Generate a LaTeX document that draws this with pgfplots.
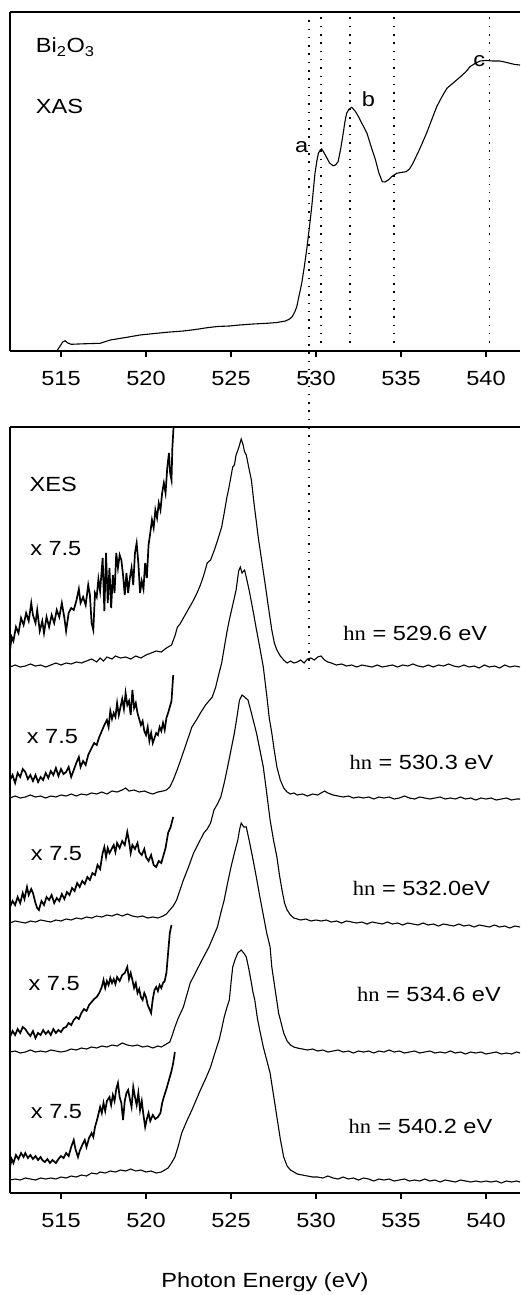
\documentclass[border=0pt]{standalone}
\usepackage{pgfplots}
\pgfplotsset{compat=1.18}
\usepackage{fontspec}
\setmainfont{Liberation Sans}[FakeStretch=1.15]
\newfontfamily\serif{Liberation Serif}[FakeStretch=1.1]
\newcommand{\myfs}{\fontsize{20.5}{24}\selectfont}
\tikzset{vdot/.style={line width=1.5pt, dash pattern=on 1.5pt off 6.8pt}}
\pgfplotsset{
  myaxis/.style={
    scale only axis, width=510pt, xmin=512, xmax=542, ymin=0,
    axis x line*=bottom, axis y line*=left, ytick=\empty,
    xtick={515,520,...,540}, tick align=outside, major tick length=6pt,
    tick label style={font=\myfs}, x tick label style={yshift=-11pt},
    /pgf/number format/assume math mode=true,
    axis line style={line width=1.3pt}, every tick/.style={line width=1.2pt, black},
    clip=false,
  },
  spec/.style={black, line width=1.1pt, no marks},
  mag/.style={black, line width=1.7pt, no marks},
}
\begin{document}
\begin{tikzpicture}
\begin{axis}[myaxis, height=339pt, ymax=339, at={(10pt,-351pt)}, anchor=south west]
\draw[line width=1.5pt] (rel axis cs:0,1) -- (rel axis cs:1,1);
\draw[vdot] (axis cs:530.3,0) -- (axis cs:530.3,339);
\draw[vdot] (axis cs:532.0,0) -- (axis cs:532.0,339);
\draw[vdot] (axis cs:534.6,0) -- (axis cs:534.6,339);
\draw[vdot] (axis cs:540.2,0) -- (axis cs:540.2,339);
\coordinate (L1) at (axis cs:529.6,339);
\addplot[spec] coordinates {(514.75,0)(514.95,5)(515.1,9)(515.24,10.3)(515.4,8)(515.6,6.7)(516.0,7)(516.5,7.3)(517.3,7.7)(517.9,11)(518.8,13.5)(519.65,16)(520.5,17.5)(521.4,19)(522.2,20)(522.9,21.5)(523.6,23.3)(524.2,24.5)(524.9,25)(525.5,26)(526.3,27)(527.1,27.7)(527.7,28.5)(528.2,30)(528.45,32)(528.6,34.3)(528.75,39)(528.87,44.3)(529.0,55)(529.16,67.7)(529.3,83)(529.45,101)(529.6,122)(529.75,144.3)(529.85,162)(529.94,177.7)(530.05,190)(530.14,197.7)(530.25,201)(530.33,202)(530.45,199)(530.6,194.3)(530.8,188)(531.0,185.3)(531.15,186)(531.3,189.3)(531.45,202)(531.6,217.7)(531.7,229)(531.8,237.7)(531.95,242)(532.1,243.7)(532.3,240)(532.5,234.3)(532.75,226)(533.0,217.7)(533.25,204)(533.5,191)(533.7,178)(533.9,169.3)(534.05,169)(534.25,171)(534.5,175)(534.75,177.7)(535.0,178.5)(535.3,179.3)(535.5,182)(535.7,187.7)(536.1,202)(536.5,217.7)(536.8,231)(537.1,244.3)(537.4,254)(537.7,262.7)(538.1,268.5)(538.5,274.3)(538.8,279)(539.06,284.3)(539.35,287.5)(539.65,290)(540.0,290.5)(540.4,290)(540.8,290)(541.1,289)(541.4,287.7)(541.7,286.5)(542.0,286)};
\node[anchor=base west, font=\myfs, inner sep=0pt] at (axis cs:513.51,298) {Bi\textsubscript{2}O\textsubscript{3}};
\node[anchor=base west, font=\myfs, inner sep=0pt] at (axis cs:513.51,237) {XAS};
\node[anchor=base, font=\myfs, inner sep=0pt] at (axis cs:529.16,199) {a};
\node[anchor=base, font=\myfs, inner sep=0pt] at (axis cs:533.08,244) {b};
\node[anchor=base, font=\myfs, inner sep=0pt] at (axis cs:539.6,284) {c};
\end{axis}

\begin{axis}[myaxis, height=766pt, ymax=766, at={(10pt,-1193pt)}, anchor=south west,
  xlabel={Photon Energy (eV)}, xlabel style={font=\myfs, at={(axis description cs:0.5,-0.124)}, anchor=base}]
\draw[line width=1.5pt] (rel axis cs:0,1) -- (rel axis cs:1,1);
\coordinate (L2) at (axis cs:529.6,523);
% hv = 529.6
\addplot[spec] coordinates {(512.0,526)(512.3,528)(512.6,526)(512.9,527)(513.2,529)(513.5,527)(513.8,528)(514.1,526)(514.4,528)(514.7,530)(515.0,528)(515.3,530)(515.6,529)(515.9,531)(516.2,530)(516.5,532)(516.8,534)(517.1,531)(517.3,535)(517.5,532)(517.7,536)(518.0,534)(518.2,537)(518.5,535)(518.8,536)(519.1,534)(519.4,537)(519.7,535)(520.0,538)(520.3,540)(520.6,542)(520.9,541)(521.2,545)(521.5,548)(521.7,557)(521.85,566)(522.0,569)(522.2,575)(522.5,584)(522.8,593)(523.0,600)(523.2,608)(523.4,618)(523.6,630)(523.8,633)(524.0,642)(524.2,652)(524.45,666)(524.6,680)(524.75,695)(524.85,703)(524.95,712)(525.1,726)(525.2,728)(525.3,738)(525.45,745)(525.6,754)(525.7,749)(525.8,741)(525.9,738)(526.05,725)(526.2,713)(526.35,690)(526.5,670)(526.6,656)(526.8,633)(527.0,610)(527.2,586)(527.4,563)(527.55,550)(527.7,543)(527.9,537)(528.1,533)(528.3,530)(528.5,532)(528.7,530)(528.9,531)(529.1,533)(529.3,530)(529.5,534)(529.7,535)(529.9,533)(530.1,536)(530.3,537)(530.5,533)(530.7,531)(530.9,530)(531.2,528)(531.5,529)(531.8,527)(532.1,528)(532.4,526)(532.7,528)(533.0,527)(533.3,526)(533.6,528)(533.9,526)(534.2,527)(534.5,528)(534.8,526)(535.1,528)(535.4,527)(535.7,529)(536.0,527)(536.3,526)(536.6,528)(536.9,526)(537.2,528)(537.5,527)(537.8,529)(538.1,527)(538.4,526)(538.7,528)(539.0,526)(539.3,527)(539.6,525)(539.9,528)(540.2,526)(540.5,527)(540.8,525)(541.1,528)(541.4,526)(541.7,527)(542.0,526)};
\addplot[mag] coordinates {(512.0,543)(512.1,556)(512.2,552)(512.35,566)(512.5,560)(512.65,575)(512.8,568)(512.95,580)(513.1,572)(513.25,590)(513.35,578)(513.5,570)(513.6,583)(513.75,562)(513.9,572)(514.0,560)(514.15,576)(514.3,566)(514.45,578)(514.6,570)(514.75,583)(514.9,576)(515.05,590)(515.2,575)(515.3,562)(515.45,580)(515.6,585)(515.75,583)(515.9,592)(516.05,604)(516.15,590)(516.3,596)(516.45,588)(516.6,608)(516.7,598)(516.8,570)(516.9,563)(517.0,600)(517.1,596)(517.2,614)(517.3,602)(517.45,635)(517.55,582)(517.65,640)(517.75,590)(517.85,625)(517.95,585)(518.05,618)(518.15,600)(518.25,640)(518.35,625)(518.45,638)(518.55,633)(518.65,618)(518.75,598)(518.85,620)(518.95,600)(519.05,615)(519.15,625)(519.25,608)(519.35,640)(519.45,650)(519.55,630)(519.65,600)(519.75,612)(519.85,604)(519.95,630)(520.05,615)(520.15,648)(520.25,660)(520.35,673)(520.45,665)(520.55,683)(520.65,675)(520.75,690)(520.85,683)(520.95,700)(521.05,710)(521.15,700)(521.25,725)(521.35,740)(521.42,720)(521.5,713)(521.55,745)(521.62,766)};
% hv = 530.3
\addplot[spec] coordinates {(512.0,395)(512.3,397)(512.6,395)(512.9,396)(513.2,398)(513.5,396)(513.8,397)(514.1,395)(514.4,397)(514.7,396)(515.0,398)(515.3,397)(515.6,399)(515.9,397)(516.2,399)(516.5,398)(516.8,400)(517.1,399)(517.4,401)(517.7,399)(518.0,402)(518.3,401)(518.6,403)(518.8,405)(519.0,402)(519.3,403)(519.6,401)(519.9,402)(520.2,400)(520.4,399)(520.7,401)(521.0,402)(521.2,403)(521.4,406)(521.6,413)(521.85,424)(522.1,436)(522.4,451)(522.7,466)(523.0,474)(523.2,480)(523.5,488)(523.7,492)(523.9,496)(524.1,506)(524.3,520)(524.45,530)(524.6,545)(524.75,560)(524.9,573)(525.1,588)(525.3,603)(525.45,622)(525.55,626)(525.65,620)(525.8,623)(525.95,612)(526.1,600)(526.3,582)(526.5,563)(526.7,545)(526.9,526)(527.1,498)(527.25,475)(527.4,460)(527.55,442)(527.7,426)(527.9,413)(528.1,405)(528.3,401)(528.5,399)(528.7,400)(528.9,398)(529.2,399)(529.5,397)(529.8,399)(530.1,398)(530.3,400)(530.5,402)(530.7,400)(531.0,398)(531.3,397)(531.6,396)(531.9,397)(532.2,395)(532.5,396)(532.8,395)(533.1,396)(533.4,394)(533.7,396)(534.0,395)(534.3,396)(534.6,394)(534.9,395)(535.2,397)(535.5,395)(535.8,394)(536.1,396)(536.4,395)(536.7,394)(537.0,395)(537.3,396)(537.6,394)(537.9,395)(538.2,394)(538.5,396)(538.8,394)(539.1,395)(539.4,393)(539.7,395)(540.0,394)(540.3,395)(540.6,393)(540.9,394)(541.2,395)(541.5,393)(541.8,394)(542.0,394)};
\addplot[mag] coordinates {(512.0,413)(512.15,418)(512.3,410)(512.45,420)(512.6,416)(512.75,424)(512.9,421)(513.05,414)(513.2,418)(513.35,412)(513.5,418)(513.65,411)(513.8,416)(513.95,413)(514.1,420)(514.25,415)(514.4,422)(514.55,418)(514.7,425)(514.85,417)(515.0,424)(515.15,419)(515.3,421)(515.45,426)(515.6,416)(515.75,423)(515.9,430)(516.05,436)(516.15,426)(516.3,432)(516.45,428)(516.6,438)(516.8,445)(516.95,450)(517.1,448)(517.25,456)(517.4,462)(517.55,468)(517.7,473)(517.8,466)(517.9,482)(518.0,474)(518.1,480)(518.2,476)(518.3,490)(518.4,478)(518.5,486)(518.6,494)(518.7,484)(518.8,500)(518.9,488)(519.0,492)(519.1,478)(519.2,503)(519.3,485)(519.4,490)(519.5,480)(519.6,474)(519.7,468)(519.8,472)(519.9,462)(520.0,458)(520.1,466)(520.2,452)(520.3,460)(520.4,450)(520.5,455)(520.6,460)(520.7,458)(520.8,466)(520.9,462)(521.0,470)(521.1,463)(521.2,475)(521.3,480)(521.4,486)(521.5,492)(521.55,505)(521.6,518)};
% hv = 532.0
\addplot[spec] coordinates {(512.0,270)(512.3,272)(512.6,271)(512.9,270)(513.2,272)(513.5,271)(513.8,273)(514.1,272)(514.4,271)(514.7,273)(515.0,272)(515.3,274)(515.6,273)(515.9,275)(516.2,274)(516.5,276)(516.8,275)(517.1,277)(517.4,276)(517.7,278)(518.0,277)(518.3,279)(518.6,277)(518.9,279)(519.2,277)(519.5,276)(519.8,277)(520.1,275)(520.4,276)(520.7,275)(521.0,277)(521.2,279)(521.4,283)(521.6,287)(521.8,293)(522.0,303)(522.2,313)(522.5,326)(522.8,340)(523.1,350)(523.4,360)(523.6,364)(523.8,370)(524.0,383)(524.2,389)(524.4,396)(524.6,410)(524.8,426)(525.0,443)(525.2,460)(525.35,476)(525.5,493)(525.65,498)(525.8,496)(526.0,493)(526.2,480)(526.35,470)(526.5,460)(526.7,443)(526.9,426)(527.1,400)(527.3,373)(527.5,353)(527.7,336)(527.85,318)(528.0,303)(528.15,290)(528.3,283)(528.5,278)(528.7,275)(528.9,274)(529.1,273)(529.4,274)(529.7,272)(530.0,273)(530.3,272)(530.6,273)(530.9,271)(531.2,272)(531.5,270)(531.8,272)(532.1,271)(532.4,270)(532.7,271)(533.0,269)(533.3,271)(533.6,270)(533.9,269)(534.2,271)(534.5,269)(534.8,270)(535.1,268)(535.4,270)(535.7,269)(536.0,268)(536.3,270)(536.6,268)(536.9,269)(537.2,267)(537.5,269)(537.8,268)(538.1,267)(538.4,269)(538.7,267)(539.0,268)(539.3,266)(539.6,268)(539.9,267)(540.2,266)(540.5,268)(540.8,266)(541.1,267)(541.4,265)(541.7,267)(542.0,266)};
\addplot[mag] coordinates {(512.0,286)(512.15,292)(512.3,288)(512.45,296)(512.6,290)(512.75,300)(512.85,294)(513.0,306)(513.1,298)(513.25,304)(513.35,300)(513.5,290)(513.6,285)(513.7,283)(513.85,292)(514.0,288)(514.15,296)(514.3,293)(514.45,298)(514.6,290)(514.75,295)(514.9,292)(515.05,299)(515.2,294)(515.35,301)(515.5,298)(515.65,305)(515.8,302)(515.95,310)(516.1,306)(516.25,312)(516.4,309)(516.55,316)(516.7,313)(516.85,320)(517.0,318)(517.15,328)(517.3,324)(517.45,340)(517.55,346)(517.65,336)(517.75,345)(517.85,340)(517.95,343)(518.1,348)(518.2,341)(518.3,350)(518.45,345)(518.6,352)(518.75,348)(518.9,361)(519.0,352)(519.1,340)(519.2,348)(519.35,344)(519.5,350)(519.6,341)(519.75,338)(519.9,344)(520.0,336)(520.15,332)(520.3,338)(520.45,328)(520.6,326)(520.75,332)(520.9,330)(521.0,336)(521.15,345)(521.3,360)(521.45,366)(521.6,376)};
% hv = 534.6
\addplot[spec] coordinates {(512.0,141)(512.3,142)(512.6,140)(512.9,141)(513.2,143)(513.5,141)(513.8,142)(514.1,141)(514.4,143)(514.7,142)(515.0,141)(515.3,142)(515.6,144)(515.9,143)(516.2,145)(516.5,144)(516.8,146)(517.1,145)(517.4,147)(517.7,146)(518.0,148)(518.3,147)(518.6,150)(518.9,148)(519.2,147)(519.5,148)(519.8,146)(520.1,147)(520.4,145)(520.7,147)(520.9,146)(521.1,148)(521.4,151)(521.55,158)(521.7,166)(521.9,175)(522.2,186)(522.4,198)(522.6,210)(522.9,220)(523.2,230)(523.45,238)(523.7,246)(523.95,256)(524.2,266)(524.4,280)(524.6,293)(524.8,310)(525.0,326)(525.2,340)(525.4,353)(525.5,363)(525.6,370)(525.75,366)(525.9,366)(526.1,350)(526.3,333)(526.5,315)(526.7,296)(526.9,278)(527.1,260)(527.3,246)(527.4,226)(527.6,203)(527.8,180)(527.95,170)(528.1,160)(528.3,152)(528.5,148)(528.7,146)(528.9,145)(529.2,144)(529.5,143)(529.8,144)(530.1,142)(530.4,143)(530.7,141)(531.0,142)(531.3,143)(531.6,141)(531.9,142)(532.2,140)(532.5,142)(532.8,141)(533.1,142)(533.4,140)(533.7,142)(534.0,141)(534.3,143)(534.6,141)(534.9,142)(535.2,140)(535.5,141)(535.8,142)(536.1,140)(536.4,141)(536.7,142)(537.0,140)(537.3,141)(537.6,140)(537.9,142)(538.2,140)(538.5,141)(538.8,139)(539.1,141)(539.4,140)(539.7,141)(540.0,139)(540.3,140)(540.6,141)(540.9,139)(541.2,140)(541.5,139)(541.8,141)(542.0,140)};
\addplot[mag] coordinates {(512.0,156)(512.15,162)(512.3,158)(512.45,164)(512.6,160)(512.75,166)(512.9,164)(513.05,160)(513.2,157)(513.35,162)(513.5,155)(513.65,160)(513.8,158)(513.95,163)(514.1,159)(514.25,162)(514.4,158)(514.55,164)(514.7,160)(514.85,163)(515.0,161)(515.15,165)(515.3,166)(515.45,170)(515.6,168)(515.75,173)(515.9,176)(516.05,174)(516.2,180)(516.35,184)(516.5,182)(516.65,188)(516.8,191)(516.95,194)(517.1,196)(517.25,200)(517.4,206)(517.5,213)(517.6,205)(517.7,212)(517.8,208)(517.9,215)(518.0,210)(518.1,214)(518.2,209)(518.3,216)(518.45,212)(518.6,218)(518.75,220)(518.9,226)(519.0,214)(519.1,220)(519.2,213)(519.3,205)(519.4,210)(519.5,200)(519.6,204)(519.7,196)(519.8,193)(519.9,200)(520.0,196)(520.1,188)(520.2,184)(520.3,180)(520.4,194)(520.5,203)(520.6,206)(520.7,202)(520.8,208)(520.9,205)(521.0,210)(521.1,212)(521.2,220)(521.3,240)(521.4,260)(521.5,268)};
% hv = 540.2
\addplot[spec] coordinates {(512.0,13)(512.3,14)(512.6,13)(512.9,15)(513.2,14)(513.5,13)(513.8,15)(514.1,14)(514.4,15)(514.7,14)(515.0,16)(515.3,15)(515.6,17)(515.9,16)(516.2,18)(516.5,17)(516.8,20)(517.1,19)(517.3,21)(517.6,20)(517.9,22)(518.2,21)(518.5,23)(518.8,22)(519.1,24)(519.4,22)(519.7,23)(520.0,21)(520.3,22)(520.6,20)(520.9,21)(521.1,23)(521.3,25)(521.5,30)(521.7,36)(521.9,47)(522.1,60)(522.4,72)(522.7,83)(522.95,93)(523.2,103)(523.5,114)(523.8,126)(524.05,140)(524.3,153)(524.45,164)(524.6,176)(524.75,185)(524.9,193)(525.0,210)(525.1,226)(525.25,234)(525.4,240)(525.6,243)(525.75,240)(525.9,236)(526.05,224)(526.2,210)(526.3,200)(526.4,193)(526.55,175)(526.7,162)(526.9,146)(527.1,133)(527.3,120)(527.5,98)(527.7,76)(527.9,54)(528.1,36)(528.3,27)(528.5,23)(528.7,21)(528.9,19)(529.2,18)(529.5,17)(529.8,16)(530.1,16)(530.4,15)(530.7,17)(531.0,15)(531.3,14)(531.6,16)(531.9,14)(532.2,15)(532.5,13)(532.8,15)(533.1,14)(533.4,12)(533.7,14)(534.0,13)(534.3,14)(534.6,12)(534.9,13)(535.2,14)(535.5,12)(535.8,13)(536.1,12)(536.4,14)(536.7,12)(537.0,13)(537.3,11)(537.6,13)(537.9,12)(538.2,11)(538.5,13)(538.8,12)(539.1,11)(539.4,12)(539.7,11)(540.0,12)(540.3,11)(540.6,12)(540.9,10)(541.2,12)(541.5,11)(541.8,12)(542.0,11)};
\addplot[mag] coordinates {(512.0,26)(512.1,34)(512.2,30)(512.35,38)(512.5,34)(512.65,40)(512.8,36)(512.9,40)(513.05,35)(513.2,38)(513.35,34)(513.5,37)(513.65,33)(513.8,36)(513.9,33)(514.05,31)(514.2,34)(514.35,30)(514.5,33)(514.7,30)(514.85,34)(515.0,37)(515.15,35)(515.3,40)(515.45,37)(515.6,46)(515.75,53)(515.85,44)(516.0,36)(516.1,42)(516.25,48)(516.4,53)(516.5,46)(516.65,55)(516.8,60)(516.9,56)(517.0,66)(517.15,75)(517.3,86)(517.4,80)(517.5,90)(517.6,82)(517.7,92)(517.85,96)(517.95,88)(518.05,98)(518.15,92)(518.25,104)(518.35,110)(518.45,96)(518.55,90)(518.65,73)(518.75,92)(518.85,100)(518.95,103)(519.05,94)(519.15,86)(519.25,106)(519.35,96)(519.45,88)(519.55,100)(519.65,83)(519.75,92)(519.85,78)(519.95,66)(520.05,74)(520.15,80)(520.25,72)(520.4,78)(520.55,74)(520.7,76)(520.85,80)(520.95,90)(521.05,96)(521.2,104)(521.3,110)(521.4,116)(521.5,122)(521.6,130)(521.7,141)};
\node[anchor=base west, font=\myfs, inner sep=0pt] at (axis cs:513.14,702) {XES};
\node[anchor=base west, font=\myfs, inner sep=0pt] at (axis cs:513.18,638) {x 7.5};
\node[anchor=base west, font=\myfs, inner sep=0pt] at (axis cs:531.6,553) {{\serif hn} = 529.6 eV};
\node[anchor=base west, font=\myfs, inner sep=0pt] at (axis cs:512.98,450) {x 7.5};
\node[anchor=base west, font=\myfs, inner sep=0pt] at (axis cs:531.96,424) {{\serif hn} = 530.3 eV};
\node[anchor=base west, font=\myfs, inner sep=0pt] at (axis cs:513.22,333) {x 7.5};
\node[anchor=base west, font=\myfs, inner sep=0pt] at (axis cs:532.16,298) {{\serif hn} = 532.0eV};
\node[anchor=base west, font=\myfs, inner sep=0pt] at (axis cs:513.08,203) {x 7.5};
\node[anchor=base west, font=\myfs, inner sep=0pt] at (axis cs:532.4,192) {{\serif hn} = 534.6 eV};
\node[anchor=base west, font=\myfs, inner sep=0pt] at (axis cs:513.22,75) {x 7.5};
\node[anchor=base west, font=\myfs, inner sep=0pt] at (axis cs:531.9,60) {{\serif hn} = 540.2 eV};
\end{axis}
\draw[vdot] (L1) -- (L2);
\pgfresetboundingbox
\useasboundingbox (0pt,0pt) rectangle (520pt,-1295pt);
\end{tikzpicture}
\end{document}
